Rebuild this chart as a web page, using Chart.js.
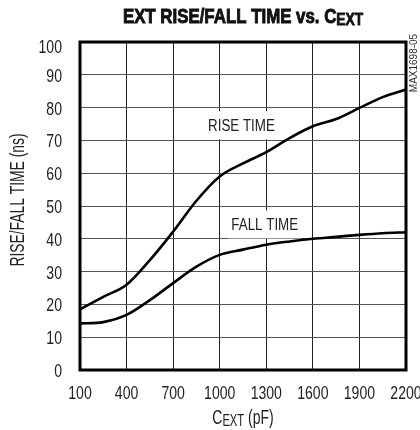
<!DOCTYPE html>
<html>
<head>
<meta charset="utf-8">
<script src="https://cdn.jsdelivr.net/npm/chart.js@4.4.1/dist/chart.umd.min.js"></script>
<style>
  html, body { margin: 0; padding: 0; background: #fff; }
  #wrap { width: 420px; height: 430px; position: relative; }
</style>
</head>
<body>
<div id="wrap"><canvas id="chart"></canvas></div>
<script>
// values
const cext = [100, 250, 400, 550, 700, 850, 1000, 1150, 1300, 1450, 1600, 1750, 1900, 2050, 2200];
const riseTime = [18.5, 22.3, 26, 33.5, 42.2, 51.6, 59, 63, 66.4, 70.7, 74.3, 76.5, 79.9, 83.2, 85.5];
const fallTime = [14.2, 14.6, 16.8, 21.3, 26.5, 31.5, 35.1, 36.7, 38.2, 39.2, 40, 40.6, 41.2, 41.7, 42];
const xTicks = [100, 400, 700, 1000, 1300, 1600, 1900, 2200];
const yTicks = [0, 10, 20, 30, 40, 50, 60, 70, 80, 90, 100];

// no narrow font installed, so squeeze Liberation Sans horizontally
const FONT = "'Liberation Sans', Arial, sans-serif";

// curve labels, anchored in data units
const curveLabels = [
  { text: 'RISE TIME', x: 1140, y: 74.6 },
  { text: 'FALL TIME', x: 1290, y: 44.4 }
];

function narrowText(ctx, text, x, y, size, squeeze, opts = {}) {
  ctx.save();
  ctx.font = (opts.bold ? 'bold ' : '') + size + 'px ' + FONT;
  ctx.textAlign = opts.align || 'left';
  ctx.textBaseline = opts.baseline || 'alphabetic';
  ctx.translate(x, y);
  if (opts.rotate) ctx.rotate(opts.rotate);
  ctx.scale(squeeze, 1);
  ctx.fillText(text, 0, 0);
  if (opts.heavy) {
    ctx.strokeStyle = ctx.fillStyle;
    ctx.lineWidth = opts.heavy;
    ctx.strokeText(text, 0, 0);
  }
  ctx.restore();
}

function textWidth(ctx, text, size, squeeze, bold) {
  ctx.save();
  ctx.font = (bold ? 'bold ' : '') + size + 'px ' + FONT;
  const w = ctx.measureText(text).width * squeeze;
  ctx.restore();
  return w;
}

// runs of text: {t, size, squeeze, dy}
function drawRuns(ctx, runs, cx, baseline, bold, heavy) {
  const total = runs.reduce((s, r) => s + textWidth(ctx, r.t, r.size, r.squeeze, bold), 0);
  let x = cx - total / 2;
  runs.forEach(r => {
    narrowText(ctx, r.t, x, baseline + (r.dy || 0), r.size, r.squeeze, { bold, heavy });
    x += textWidth(ctx, r.t, r.size, r.squeeze, bold);
  });
}

const decorations = {
  id: 'decorations',
  beforeDatasetsDraw(chart) {
    const { ctx, scales: { x, y } } = chart;
    ctx.save();
    curveLabels.forEach(l => {
      const px = x.getPixelForValue(l.x), py = y.getPixelForValue(l.y);
      const w = textWidth(ctx, l.text, 16.3, 0.82, false);
      ctx.fillStyle = '#fff';
      ctx.fillRect(px - w / 2 - 3, py - 14, w + 6, 28);
      ctx.fillStyle = '#222';
      narrowText(ctx, l.text, px, py + 6, 16.3, 0.82, { align: 'center' });
    });
    ctx.restore();
  },
  afterDraw(chart) {
    const { ctx, chartArea: a, scales: { x, y } } = chart;
    ctx.save();
    // frame
    ctx.strokeStyle = '#000';
    ctx.lineWidth = 3;
    ctx.strokeRect(a.left, a.top, a.right - a.left, a.bottom - a.top);

    // tick labels (top one sits a little below the frame, as in the original)
    ctx.fillStyle = '#222';
    yTicks.forEach(v => {
      const py = Math.max(y.getPixelForValue(v), a.top + 4);
      narrowText(ctx, String(v), a.left - 18, py + 7, 19, 0.74, { align: 'right' });
    });
    xTicks.forEach(v => {
      narrowText(ctx, String(v), x.getPixelForValue(v), a.bottom + 28.5, 19, 0.74, { align: 'center' });
    });

    const cx = (a.left + a.right) / 2;
    // title
    ctx.fillStyle = '#111';
    drawRuns(ctx, [
      { t: 'EXT RISE/FALL TIME vs. C', size: 19.6, squeeze: 0.86 },
      { t: 'EXT', size: 17.2, squeeze: 0.8, dy: 2.3 }
    ], cx, 22.7, true, 0.9);

    // x axis title
    ctx.fillStyle = '#222';
    drawRuns(ctx, [
      { t: 'C', size: 20, squeeze: 0.7 },
      { t: 'EXT', size: 16, squeeze: 0.7, dy: 1.5 },
      { t: ' (pF)', size: 20, squeeze: 0.7 }
    ], cx, 424, false);

    // y axis title
    narrowText(ctx, 'RISE/FALL TIME (ns)', 24, 200, 19.5, 0.71, { align: 'center', rotate: -Math.PI / 2 });

    // figure id
    ctx.fillStyle = '#333';
    narrowText(ctx, 'MAX1698-05', 417, 63, 10, 1, { align: 'center', rotate: -Math.PI / 2 });
    ctx.restore();
  }
};

const lineStyle = {
  borderColor: '#000',
  borderWidth: 2.6,
  pointRadius: 0,
  fill: false,
  cubicInterpolationMode: 'monotone'
};

new Chart(document.getElementById('chart'), {
  type: 'line',
  data: {
    datasets: [
      { label: 'RISE TIME', data: cext.map((c, i) => ({ x: c, y: riseTime[i] })), ...lineStyle },
      { label: 'FALL TIME', data: cext.map((c, i) => ({ x: c, y: fallTime[i] })), ...lineStyle }
    ]
  },
  options: {
    responsive: true,
    maintainAspectRatio: false,
    animation: false,
    layout: { padding: { left: 0, right: 14, top: 42, bottom: 0 } },
    plugins: { legend: { display: false }, tooltip: { enabled: false }, title: { display: false } },
    scales: {
      x: {
        type: 'linear',
        min: 100, max: 2200,
        afterBuildTicks: s => { s.ticks = xTicks.map(v => ({ value: v })); },
        afterFit: s => { s.height = 60; s.paddingLeft = 0; s.paddingRight = 0; },
        grid: { color: '#222', lineWidth: 1, drawTicks: false },
        border: { display: false },
        ticks: { display: false }
      },
      y: {
        min: 0, max: 100,
        afterBuildTicks: s => { s.ticks = yTicks.map(v => ({ value: v })); },
        afterFit: s => { s.width = 80; s.paddingTop = 0; s.paddingBottom = 0; },
        grid: { color: '#555', lineWidth: 1, drawTicks: false },
        border: { display: false },
        ticks: { display: false }
      }
    }
  },
  plugins: [decorations]
});
</script>
</body>
</html>
